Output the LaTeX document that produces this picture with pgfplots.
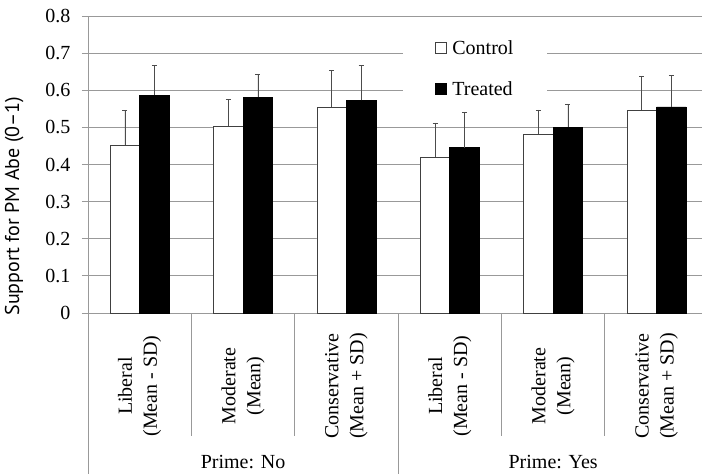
\documentclass[border=0pt]{standalone}
\usepackage{fontspec}
\setmainfont{Liberation Serif}
\newfontfamily\labfont{PT Sans}
\usepackage{pgfplots}
\pgfplotsset{compat=1.18}
\newcommand\chartfont{\fontsize{20}{25}\selectfont}
\begin{document}
\begin{tikzpicture}
\begin{axis}[
  scale only axis, width=614pt, height=297pt,
  xmin=-0.5, xmax=5.44, ymin=0, ymax=0.8,
  ybar=0pt, bar width=29.5pt,
  axis x line*=bottom, axis y line*=left,
  axis line style={black!40, line width=0.8pt},
  ymajorgrids, major grid style={black!40, line width=0.8pt},
  ytick={0,0.1,...,0.8},
  /pgf/number format/assume math mode=true,
  yticklabel style={/pgf/number format/fixed, /pgf/number format/precision=1, font=\chartfont, xshift=-8pt},
  tick align=outside, major tick length=6pt,
  ytick style={black!40, line width=0.8pt},
  xtick={0,...,5}, xtick style={draw=none},
  xticklabels={Liberal\\(Mean - SD), Moderate\\(Mean), Conservative\\(Mean + SD),
               Liberal\\(Mean - SD), Moderate\\(Mean), Conservative\\(Mean + SD)},
  xticklabel style={font=\chartfont, align=center, yshift=-67pt, rotate=90, anchor=center},
  ylabel={Support for PM Abe (0–1)},
  ylabel style={font=\labfont\fontsize{20}{24}\selectfont, at={(axis description cs:-0.12,0.36)}, anchor=center},
  legend style={draw=none, fill=white, at={(axis cs:2.546,0.7625)}, anchor=north west,
    inner xsep=32pt, inner ysep=8pt, font=\chartfont, row sep=22pt},
  legend cell align=left,
  error bars/y dir=plus, error bars/y explicit,
  error bars/error mark options={rotate=90, mark size=2.5pt, black!70, line width=0.6pt},
  error bars/error bar style={black!70, line width=0.6pt},
  clip=false,
]
% control
\addplot[fill=white, draw=black!75, line width=0.6pt,
  legend image code/.code={\path[draw=none, fill=none] (0pt,0pt) -- (15pt,0pt);
    \draw[fill=white, draw=black!75, line width=0.6pt] (0pt,-5.5pt) rectangle (11pt,5.5pt);}]
coordinates {(0,0.452) +- (0,0.094) (1,0.503) +- (0,0.072) (2,0.555) +- (0,0.099)
             (3,0.419) +- (0,0.093) (4,0.482) +- (0,0.065) (5,0.546) +- (0,0.091)};
% treated
\addplot[fill=black, draw=black, line width=0.6pt,
  legend image code/.code={\path[draw=none, fill=none] (0pt,0pt) -- (15pt,0pt);
    \draw[fill=black, draw=black, line width=0.6pt] (0pt,-5.5pt) rectangle (11pt,5.5pt);}]
coordinates {(0,0.587) +- (0,0.080) (1,0.581) +- (0,0.062) (2,0.573) +- (0,0.094)
             (3,0.445) +- (0,0.095) (4,0.501) +- (0,0.062) (5,0.555) +- (0,0.084)};
\legend{Control, Treated}

% separators under the category axis
\draw[black!40, line width=0.8pt] (axis cs:-0.5,0) -- ([yshift=-161pt]axis cs:-0.5,0);
\draw[black!40, line width=0.8pt] (axis cs:2.5,0) -- ([yshift=-161pt]axis cs:2.5,0);
\draw[black!40, line width=0.8pt] (axis cs:0.5,0) -- ([yshift=-123pt]axis cs:0.5,0);
\draw[black!40, line width=0.8pt] (axis cs:1.5,0) -- ([yshift=-123pt]axis cs:1.5,0);
\draw[black!40, line width=0.8pt] (axis cs:3.5,0) -- ([yshift=-123pt]axis cs:3.5,0);
\draw[black!40, line width=0.8pt] (axis cs:4.5,0) -- ([yshift=-123pt]axis cs:4.5,0);
\node[font=\chartfont] at (axis cs:1,0) [yshift=-149pt] {Prime: No};
\node[font=\chartfont] at (axis cs:4,0) [yshift=-149pt] {Prime: Yes};
\end{axis}
\pgfresetboundingbox
\path[use as bounding box] ([xshift=-88pt,yshift=-161pt]current axis.south west)
  rectangle ([xshift=1pt,yshift=16pt]current axis.north east);
\end{tikzpicture}
\end{document}
